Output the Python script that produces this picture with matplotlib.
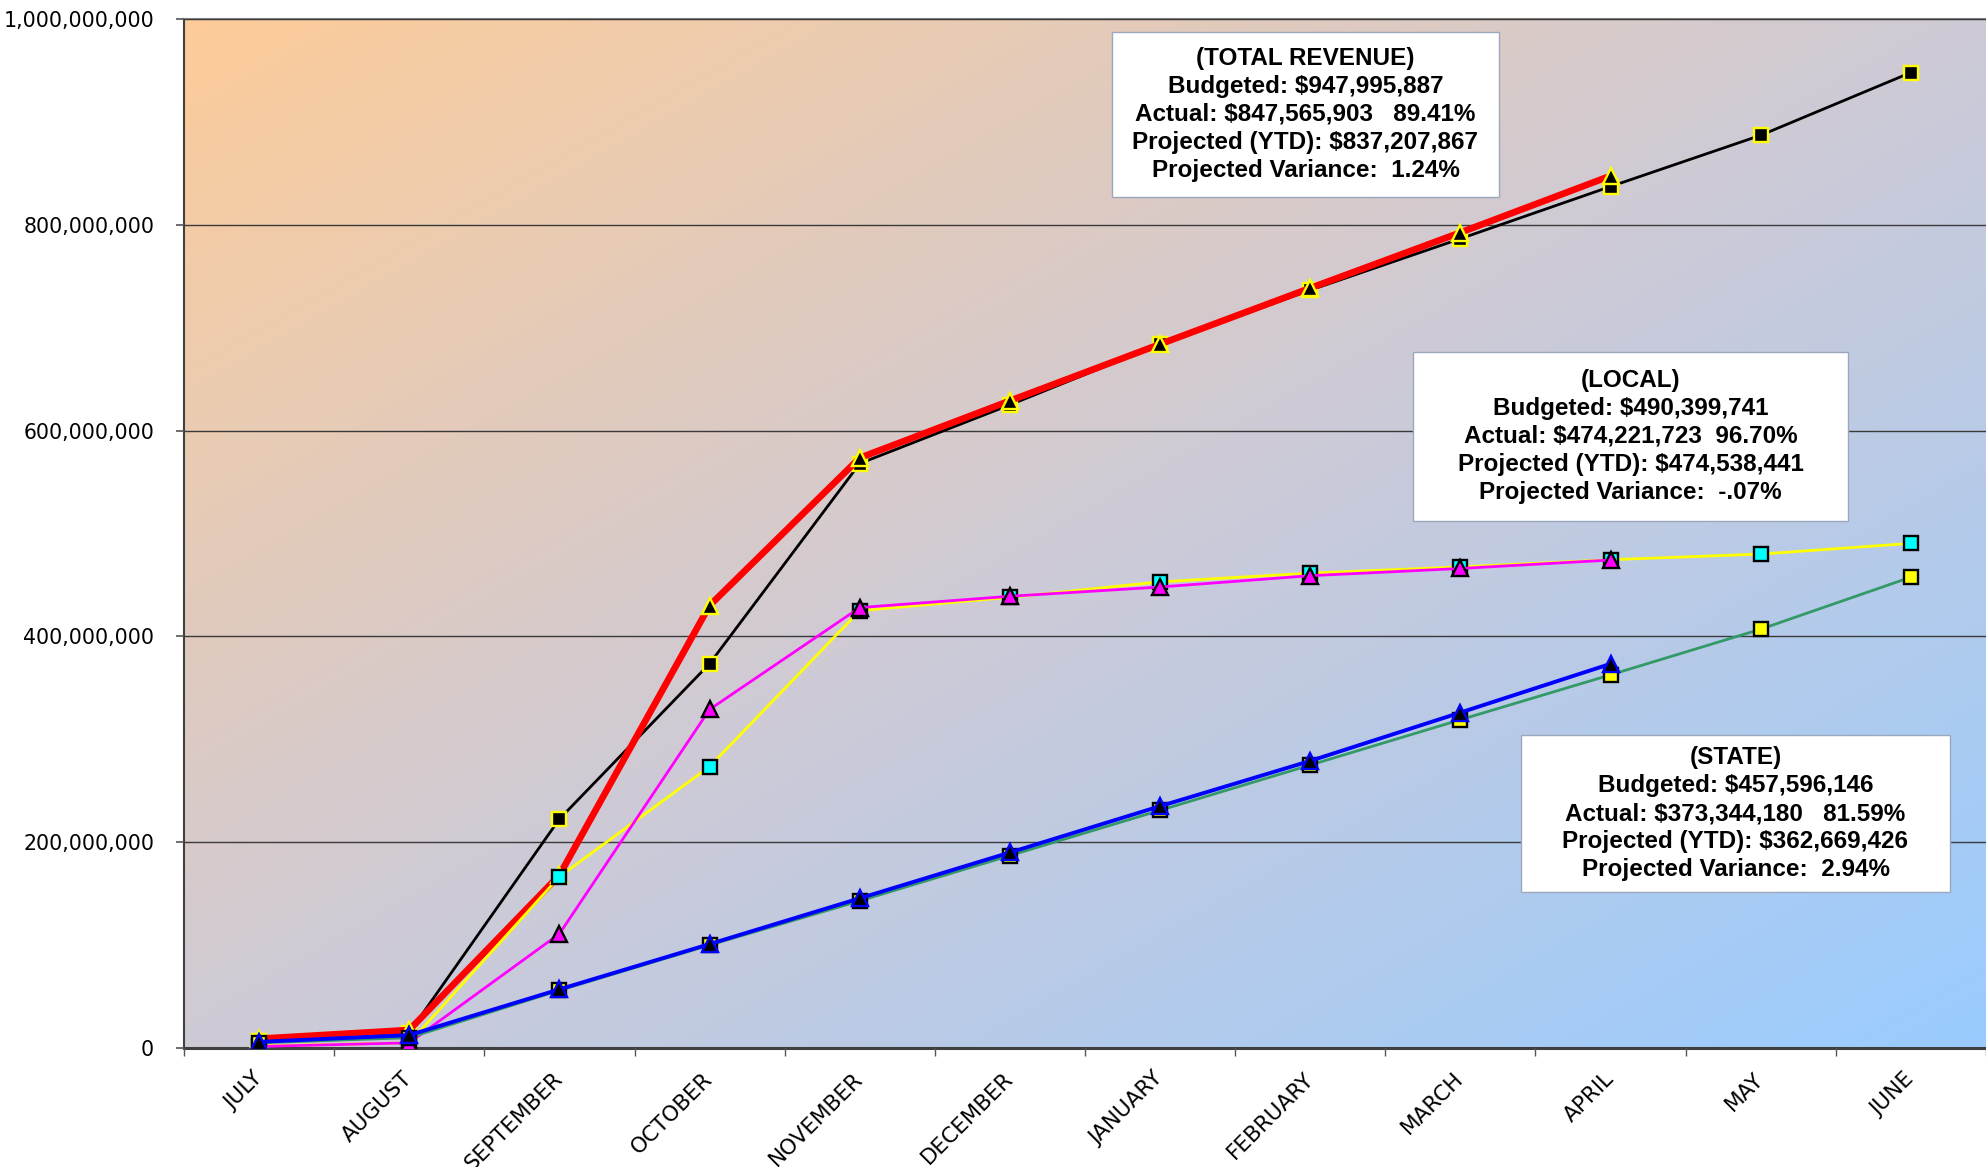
import numpy as np
import matplotlib
matplotlib.use("Agg")
import matplotlib.pyplot as plt
from matplotlib.patches import Rectangle
from matplotlib.ticker import FuncFormatter, FixedLocator

# ---- data (millions of dollars, cumulative) ----
months = ["JULY", "AUGUST", "SEPTEMBER", "OCTOBER", "NOVEMBER", "DECEMBER",
          "JANUARY", "FEBRUARY", "MARCH", "APRIL", "MAY", "JUNE"]

total_budget = [7, 15, 222.5, 373.5, 568, 625, 684, 736.5, 786.5, 837.207867, 887, 947.995887]
total_actual = [9, 17.5, 168, 430, 573.5, 629, 684, 738.5, 792.5, 847.565903]

local_budget = [2, 5, 166.5, 273.5, 425, 438, 453, 461.5, 467.5, 474.538441, 480, 490.399741]
local_actual = [1.5, 5, 111, 329, 428, 439, 448, 459, 466, 474.221723]

state_budget = [5, 10, 56, 100, 143, 187, 231, 275, 319, 362.669426, 407, 457.596146]
state_actual = [6, 12.5, 57, 101, 145.5, 190, 235, 279, 326, 373.344180]

total_text = ("(TOTAL REVENUE)\nBudgeted: $947,995,887\nActual: $847,565,903   89.41%\n"
              "Projected (YTD): $837,207,867\nProjected Variance:  1.24%")
local_text = ("(LOCAL)\nBudgeted: $490,399,741\nActual: $474,221,723  96.70%\n"
              "Projected (YTD): $474,538,441\nProjected Variance:  -.07%")
state_text = ("(STATE)\nBudgeted: $457,596,146\nActual: $373,344,180   81.59%\n"
              "Projected (YTD): $362,669,426\nProjected Variance:  2.94%")

W, H = 1986, 1167
fig = plt.figure(figsize=(W / 100, H / 100), dpi=100)
fig.patch.set_facecolor("white")


def fx(px):
    return px / W


def fy(py):
    return 1 - py / H


ax = fig.add_axes([fx(184), fy(1048), fx(1986) - fx(184), fy(19) - fy(1048)])

# diagonal gradient background: peach (top-left) to light blue (bottom-right)
n = 400
u = np.linspace(0, 1, n)
v = np.linspace(1, 0, n)
U, V = np.meshgrid(u, v)
t = (U + (1 - V)) / 2
c0 = np.array([253, 204, 153]) / 255
c1 = np.array([153, 204, 255]) / 255
mid = np.array([206, 202, 214]) / 255
t3 = t[..., None]
img = np.where(t3 < 0.5,
               c0 + (mid - c0) * (t3 / 0.5),
               mid + (c1 - mid) * ((t3 - 0.5) / 0.5))
ax.imshow(img, extent=[0, 1, 0, 1], transform=ax.transAxes, aspect="auto",
          zorder=0, interpolation="bilinear")

x_all = np.arange(len(months))
x_act = np.arange(len(total_actual))
to_dollars = lambda arr: np.asarray(arr) * 1e6

ms = 10.5
mst = 12
mew = 1.7
ax.plot(x_all, to_dollars(total_budget), color="black", lw=2.0, marker="s", ms=ms,
        mfc="black", mec="#FFFF00", mew=mew, zorder=3)
ax.plot(x_act, to_dollars(total_actual), color="#FF0000", lw=4.8, marker="^", ms=mst,
        mfc="black", mec="#FFFF00", mew=mew, zorder=4)
ax.plot(x_all, to_dollars(local_budget), color="#FFFF00", lw=2.0, marker="s", ms=ms,
        mfc="#00FFFF", mec="black", mew=mew, zorder=5)
ax.plot(x_act, to_dollars(local_actual), color="#FF00FF", lw=2.0, marker="^", ms=mst,
        mfc="#FF00FF", mec="black", mew=mew, zorder=6)
ax.plot(x_all, to_dollars(state_budget), color="#339966", lw=2.0, marker="s", ms=ms,
        mfc="#FFFF00", mec="black", mew=mew, zorder=7)
ax.plot(x_act, to_dollars(state_actual), color="#0000FF", lw=2.8, marker="^", ms=mst,
        mfc="black", mec="#0000FF", mew=mew, zorder=8)

ax.set_xlim(-0.5, 11.425)
ax.set_ylim(0, 1e9)

# y axis
ax.yaxis.set_major_locator(FixedLocator(np.arange(0, 1.0e9 + 1, 2e8)))
ax.yaxis.set_major_formatter(FuncFormatter(lambda v, p: f"{int(round(v)):,}"))
ax.tick_params(axis="y", direction="out", length=5.5, width=1.2, color="#555555",
               pad=16, labelsize=14.8, labelcolor="black")
ax.grid(axis="y", color="#3a3a3a", lw=1.0, zorder=1)
ax.set_axisbelow(False)
for gl in ax.get_ygridlines():
    gl.set_zorder(1)

# x axis: labels at month centres, ticks at month boundaries
ax.set_xticks(x_all)
ax.set_xticklabels(months, rotation=45, ha="right", va="center",
                   rotation_mode="anchor", fontsize=15.5)
ax.tick_params(axis="x", which="major", length=0, pad=20)
ax.set_xticks(np.arange(-0.5, 12, 1), minor=True)
ax.tick_params(axis="x", which="minor", direction="out", length=6, width=1.0,
               color="#555555")

ax.spines["right"].set_visible(False)
ax.spines["top"].set_color("#808080")
ax.spines["top"].set_linewidth(1.5)
ax.spines["left"].set_color("#404040")
ax.spines["left"].set_linewidth(1.5)
ax.spines["bottom"].set_color("#404040")
ax.spines["bottom"].set_linewidth(2.2)


def info_box(x0, y0, x1, y1, text):
    rect = Rectangle((fx(x0), fy(y1)), fx(x1) - fx(x0), fy(y0) - fy(y1),
                     transform=fig.transFigure, facecolor="white",
                     edgecolor="#9aa8bd", lw=1.0, zorder=20)
    fig.add_artist(rect)
    fig.text(fx((x0 + x1) / 2), fy((y0 + y1) / 2), text, ha="center", va="center",
             fontsize=17.5, fontweight="bold", family="Liberation Sans",
             linespacing=1.28, zorder=21)


info_box(1112, 32, 1499, 197, total_text)
info_box(1413, 352, 1848, 521, local_text)
info_box(1521, 735, 1950, 892, state_text)

fig.savefig("out.png", dpi=100)
